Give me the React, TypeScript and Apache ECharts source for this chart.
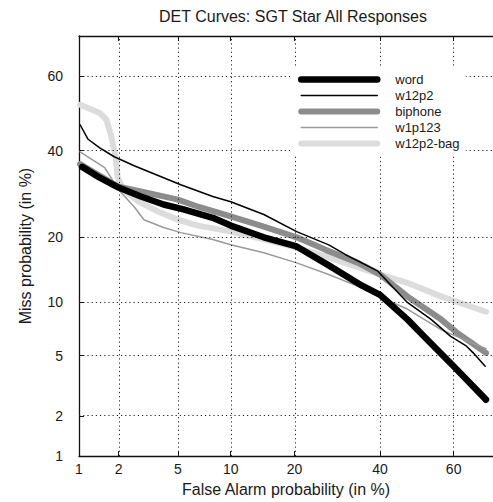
import React, { useEffect, useRef } from "react";
import * as echarts from "echarts";

// ---- data (percent values) ----
const tickPercents = [1, 2, 5, 10, 20, 40, 60];
const gridPercents = [2, 5, 10, 20, 40, 60];
const seriesNames = ["word", "w12p2", "biphone", "w1p123", "w12p2-bag"];

const wordFA = [1.06, 1.45, 2, 2.87, 4.06, 5.4, 8.0, 10, 14.6, 20.4, 27.2, 35.3, 40, 47.4, 52, 60, 68.3];
const wordMiss = [35.8, 33.1, 30.7, 28.6, 26.8, 25.7, 23.9, 22.3, 20.0, 18.3, 15.1, 12.1, 10.9, 8.1, 6.5, 4.3, 2.6];

const w12p2FA = [1.02, 1.18, 1.45, 1.86, 2.58, 4.06, 5.2, 8.0, 10, 14.6, 20.4, 27.2, 31.1, 39.4, 47.4, 53.9, 59.2, 63.4, 65.1, 68.1];
const w12p2Miss = [46.9, 43.0, 40.7, 38.4, 36.1, 33.1, 31.4, 28.6, 27.4, 24.6, 21.1, 18.6, 16.9, 14.2, 9.96, 8.1, 6.5, 5.7, 5.2, 4.3];

const biphoneFA = [1.02, 2, 2.87, 5, 6.6, 10, 14.6, 20.4, 26.5, 34.3, 40, 47.4, 56.6, 60.8, 68.3];
const biphoneMiss = [36.5, 30.9, 29.8, 27.9, 26.3, 24.2, 22.1, 20, 17.7, 15.5, 13.7, 10.7, 8.1, 6.85, 5.2];

const w1p123FA = [1.02, 1.58, 2, 2.58, 3.01, 4.06, 5.2, 8.0, 10, 14.6, 20.4, 27.2, 34.3, 40, 47.4, 56.6, 60.8, 68.3];
const w1p123Miss = [39.7, 35.6, 30.2, 26.3, 23.5, 21.9, 20.9, 19.6, 18.6, 17.2, 15.5, 13.7, 12.0, 10.6, 9.2, 7.1, 6.5, 5.5];

const bagFA = [1.02, 1.45, 1.63, 1.77, 1.9, 1.97, 2.16, 2.79, 3.77, 5, 6.6, 10, 14.6, 20.4, 27.2, 34.3, 40, 47.4, 56.6, 68.3];
const bagMiss = [52.3, 50.1, 48.2, 43.7, 38.4, 33.3, 30.2, 27.4, 25.2, 23.5, 22.3, 21.1, 19.6, 18.1, 16.4, 14.8, 13.7, 12.5, 10.7, 8.9];

const axisMinPct = 1;
const axisMaxPct = 70;

// inverse normal CDF (Acklam)
function probit(p: number): number {
  const a = [-3.969683028665376e1, 2.209460984245205e2, -2.759285104469687e2, 1.38357751867269e2, -3.066479806614716e1, 2.506628277459239];
  const b = [-5.447609879822406e1, 1.615858368580409e2, -1.556989798598866e2, 6.680131188771972e1, -1.328068155288572e1];
  const c = [-7.784894002430293e-3, -3.223964580411365e-1, -2.400758277161838, -2.549732539343734, 4.374664141464968, 2.938163982698783];
  const d = [7.784695709041462e-3, 3.224671290700398e-1, 2.445134137142996, 3.754408661907416];
  const pl = 0.02425;
  const ph = 1 - pl;
  let q: number, r: number;
  if (p < pl) {
    q = Math.sqrt(-2 * Math.log(p));
    return (((((c[0] * q + c[1]) * q + c[2]) * q + c[3]) * q + c[4]) * q + c[5]) / ((((d[0] * q + d[1]) * q + d[2]) * q + d[3]) * q + 1);
  }
  if (p <= ph) {
    q = p - 0.5;
    r = q * q;
    return ((((((a[0] * r + a[1]) * r + a[2]) * r + a[3]) * r + a[4]) * r + a[5]) * q) / (((((b[0] * r + b[1]) * r + b[2]) * r + b[3]) * r + b[4]) * r + 1);
  }
  q = Math.sqrt(-2 * Math.log(1 - p));
  return -(((((c[0] * q + c[1]) * q + c[2]) * q + c[3]) * q + c[4]) * q + c[5]) / ((((d[0] * q + d[1]) * q + d[2]) * q + d[3]) * q + 1);
}
const P = (pct: number) => probit(pct / 100);
const toPts = (fa: number[], miss: number[]) => fa.map((f, i) => [P(f), P(miss[i])]);

const FONT = "'Liberation Sans', Arial, Helvetica, sans-serif";

export default function App() {
  const ref = useRef<HTMLDivElement>(null);
  useEffect(() => {
    if (!ref.current) return;
    const chart = echarts.init(ref.current, undefined, { renderer: "svg" });
    const tickProbits = tickPercents.map(P);
    const gridProbits = gridPercents.map(P);
    const fmt = (v: number) => {
      const i = tickProbits.findIndex((t) => Math.abs(t - v) < 1e-6);
      return i >= 0 ? String(tickPercents[i]) : "";
    };
    const lo = P(axisMinPct);
    const hi = P(axisMaxPct);
    const line = (name: string, fa: number[], miss: number[], color: string, width: number, z: number) => ({
      name,
      type: "line",
      data: toPts(fa, miss),
      showSymbol: false,
      symbol: "none",
      smooth: false,
      z,
      lineStyle: { color, width, cap: "round", join: "round" },
      itemStyle: { color },
    });
    const axisCommon = {
      axisLine: { show: true, onZero: false, lineStyle: { color: "#111", width: 1.3 } },
      axisTick: { show: true, inside: true, length: 5, customValues: tickProbits, lineStyle: { color: "#111" } },
      splitLine: { show: false },
    };
    chart.setOption({
      animation: false,
      backgroundColor: "#fff",
      title: {
        text: "DET Curves: SGT Star All Responses",
        left: 288,
        textAlign: "center",
        top: 3,
        textStyle: { fontFamily: FONT, fontSize: 16, fontWeight: "normal", color: "#1a1a1a" },
      },
      grid: { left: 79, right: -7, top: 36, bottom: 45, containLabel: false },
      legend: {
        orient: "vertical",
        left: 290,
        top: 66,
        z: 20,
        padding: [7, 6, 6, 8],
        itemWidth: 76,
        itemHeight: 12,
        itemGap: 3,
        backgroundColor: "#ffffff",
        data: seriesNames,
        lineStyle: { width: "inherit" },
        itemStyle: { opacity: 0 },
        formatter: (name: string) => `{sp| }{t|${name}}`,
        textStyle: {
          fontFamily: FONT,
          fontSize: 13,
          color: "#1a1a1a",
          rich: {
            sp: { width: 13, fontSize: 13 },
            t: { fontFamily: FONT, fontSize: 13, color: "#1a1a1a" },
          },
        },
      },
      xAxis: [
        {
          type: "value",
          min: lo,
          max: hi,
          name: "False Alarm probability (in %)",
          nameLocation: "middle",
          nameGap: 24,
          nameTextStyle: { fontFamily: FONT, fontSize: 16, color: "#1a1a1a" },
          ...axisCommon,
          axisLabel: { customValues: tickProbits, formatter: fmt, margin: 6, fontFamily: FONT, fontSize: 14, color: "#1a1a1a" },
        },
        {
          type: "value",
          position: "top",
          min: lo,
          max: hi,
          ...axisCommon,
          axisLabel: { show: false },
        },
      ],
      yAxis: {
        type: "value",
        min: lo,
        max: hi,
        name: "Miss probability (in %)",
        nameLocation: "middle",
        nameGap: 46,
        nameTextStyle: { fontFamily: FONT, fontSize: 16, color: "#1a1a1a" },
        ...axisCommon,
        axisLabel: { customValues: tickProbits, formatter: fmt, margin: 16, fontFamily: FONT, fontSize: 14, color: "#1a1a1a" },
      },
      series: [
        {
          name: "grid",
          type: "line",
          data: [],
          z: 1,
          silent: true,
          markLine: {
            silent: true,
            symbol: "none",
            label: { show: false },
            lineStyle: { type: [1.2, 3], color: "#222", width: 1 },
            data: [
              ...gridProbits.map((v) => ({ xAxis: v })),
              ...gridProbits.map((v) => ({ yAxis: v })),
            ],
          },
        },
        line("w12p2-bag", bagFA, bagMiss, "#dcdcdc", 6, 2),
        line("biphone", biphoneFA, biphoneMiss, "#8c8c8c", 6, 3),
        line("w1p123", w1p123FA, w1p123Miss, "#9a9a9a", 1.5, 4),
        line("word", wordFA, wordMiss, "#000000", 6.5, 5),
        line("w12p2", w12p2FA, w12p2Miss, "#000000", 1.5, 6),
      ],
    });
    return () => chart.dispose();
  }, []);
  return (
    <div
      ref={ref}
      style={{ position: "absolute", left: 0, top: 0, width: 493, height: 502, background: "#fff" }}
    />
  );
}
